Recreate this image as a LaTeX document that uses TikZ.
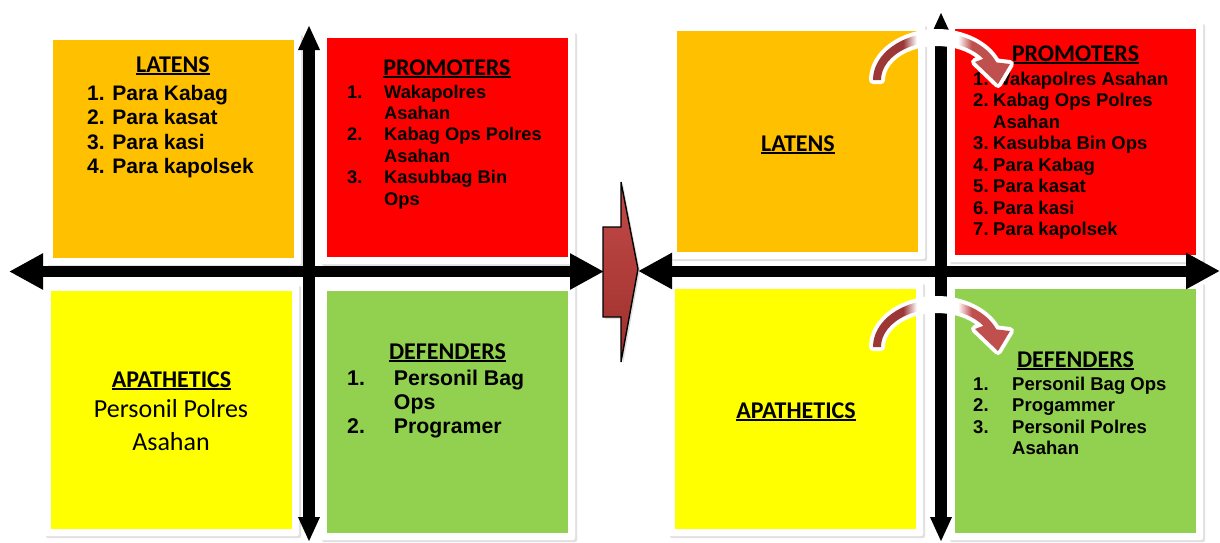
\documentclass[tikz,border=0pt]{standalone}
\usepackage{fontspec}
\setmainfont{Liberation Sans}
\newfontfamily\calfont{Carlito}
\usetikzlibrary{arrows.meta,shadows}
\definecolor{qorange}{HTML}{FFC000}
\definecolor{qred}{HTML}{FF0000}
\definecolor{qyellow}{HTML}{FFFF00}
\definecolor{qgreen}{HTML}{92D050}
\definecolor{ctop}{HTML}{C24A47}
\definecolor{cbot}{HTML}{9E302D}
\definecolor{adark}{HTML}{9B3836}
\definecolor{alight}{HTML}{C0504D}
\pgfdeclarehorizontalshading{arcshade}{100bp}{color(0bp)=(adark); color(25bp)=(adark); color(36bp)=(adark); color(41bp)=(white); color(56bp)=(white); color(61bp)=(alight); color(75bp)=(alight); color(100bp)=(alight)}
\newcommand\myul[1]{\setbox0=\hbox{#1}\rlap{\rule[-2.6pt]{\wd0}{1.8pt}}\box0}
\newcommand\hd[1]{{\calfont\bfseries\fontsize{24}{28}\selectfont\myul{#1}}}
\newcommand\qcurvedarrow[1]{%
\begin{scope}[yshift=#1]
\shade[shading=arcshade, preaction={draw=white, line width=8pt, line join=round}]
 (873,-80) arc[start angle=180, end angle=22, x radius=64, y radius=47]
 -- (1010,-64) -- (998,-84) -- (975,-62) -- (983.4,-58.8)
 arc[start angle=34, end angle=180, x radius=56, y radius=38] -- cycle;
\end{scope}}
\tikzset{
  box/.style={fill=white, rounded corners=2pt, inner sep=0pt,
    drop shadow={shadow xshift=2pt, shadow yshift=-2pt, opacity=0.2, fill=black!60},
    path picture={\fill[#1, sharp corners] ([shift={(7pt,7pt)}]path picture bounding box.south west) rectangle ([shift={(-7pt,-7pt)}]path picture bounding box.north east);}},
  haxis/.style={line width=11pt, {Triangle[length=34pt,width=34pt]}-{Triangle[length=34pt,width=34pt]}},
  vaxis/.style={line width=12pt, {Triangle[length=25pt,width=20pt]}-{Triangle[length=25pt,width=20pt]}},
  txt/.style={inner sep=0pt, text=black}
}
\begin{document}
\begin{tikzpicture}[x=1pt,y=1pt]
\useasboundingbox (0,0) rectangle (1220,-542);
% left quadrant boxes
\node[box=qorange, minimum width=255pt, minimum height=232pt] (llat) at (173.5,-149) {};
\node[box=qred, minimum width=255pt, minimum height=233pt] (lpro) at (447.5,-147.5) {};
\node[box=qyellow, minimum width=255pt, minimum height=252pt] (lapa) at (171.5,-410) {};
\node[box=qgreen, minimum width=255pt, minimum height=256pt] (ldef) at (447.5,-412) {};
% right quadrant boxes
\node[box=qorange, minimum width=255pt, minimum height=235pt] (rlat) at (797.5,-141.5) {};
\node[box=qred, minimum width=255pt, minimum height=240pt] (rpro) at (1075.5,-142) {};
\node[box=qyellow, minimum width=255pt, minimum height=254pt] (rapa) at (795.5,-409) {};
\node[box=qgreen, minimum width=255pt, minimum height=258pt] (rdef) at (1075.5,-411) {};
% axis end points
\coordinate (lw) at (9,-271.5);
\coordinate (le) at (604,-271.5);
\coordinate (ln) at (309,-25);
\coordinate (ls) at (309,-542);
\coordinate (rw) at (638,-271);
\coordinate (re) at (1220,-271);
\coordinate (rn) at (941,-12);
\coordinate (rs) at (941,-542);
\draw[haxis] (lw) -- (le);
\draw[vaxis] (ln) -- (ls);
\draw[haxis] (rw) -- (re);
\draw[vaxis] (rn) -- (rs);
% centre arrow
\draw[line width=1.4pt, top color=ctop, bottom color=cbot,
  drop shadow={shadow xshift=2pt, shadow yshift=-2pt, opacity=0.2, fill=black!60}]
  (603,-227) -- (621,-227) -- (621,-182) -- (638,-269) -- (621,-362) -- (621,-317) -- (603,-317) -- cycle;
% left texts
\node[txt, anchor=base] (llath) at (173,-72) {\hd{LATENS}};
\node[txt, anchor=base west] (llatl) at (87,-100) {\fontsize{21}{24.5}\selectfont\bfseries
  \begin{tabular}[t]{@{}l@{}}1. Para Kabag\\2. Para kasat\\3. Para kasi\\4. Para kapolsek\end{tabular}};
\node[txt, anchor=base] (lproh) at (447,-75) {\hd{PROMOTERS}};
\node[txt, anchor=base west] (lprol) at (347,-98) {\fontsize{18.3}{21.4}\selectfont\bfseries
  \begin{tabular}[t]{@{}l@{\hspace{21.7pt}}l@{}}1.&Wakapolres\\&Asahan\\2.&Kabag Ops Polres\\&Asahan\\3.&Kasubbag Bin\\&Ops\end{tabular}};
\node[txt, anchor=base] (lapah) at (171.5,-387) {\hd{APATHETICS}};
\node[txt, anchor=base] (lapal) at (171,-417) {\calfont\fontsize{26}{33}\selectfont
  \begin{tabular}[t]{@{}c@{}}Personil Polres\\Asahan\end{tabular}};
\node[txt, anchor=base] (ldefh) at (447.5,-359) {\hd{DEFENDERS}};
\node[txt, anchor=base west] (ldefl) at (347,-385) {\fontsize{21.3}{24}\selectfont\bfseries
  \begin{tabular}[t]{@{}l@{\hspace{29pt}}l@{}}1.&Personil Bag\\&Ops\\2.&Programer\end{tabular}};
% right texts
\node[txt, anchor=base] (rlath) at (798,-151) {\hd{LATENS}};
\node[txt, anchor=base] (rproh) at (1075.5,-61) {\hd{PROMOTERS}};
\node[txt, anchor=base west] (rprol) at (973,-85) {\fontsize{18.5}{21.5}\selectfont\bfseries
  \begin{tabular}[t]{@{}l@{\hspace{4.6pt}}l@{}}1.&Wakapolres Asahan\\2.&Kabag Ops Polres\\&Asahan\\3.&Kasubba Bin Ops\\4.&Para Kabag\\5.&Para kasat\\6.&Para kasi\\7.&Para kapolsek\end{tabular}};
\node[txt, anchor=base] (rapah) at (796,-418) {\hd{APATHETICS}};
\node[txt, anchor=base] (rdefh) at (1075.5,-367) {\hd{DEFENDERS}};
\node[txt, anchor=base west] (rdefl) at (973,-390) {\fontsize{18.5}{21.5}\selectfont\bfseries
  \begin{tabular}[t]{@{}l@{\hspace{23.6pt}}l@{}}1.&Personil Bag Ops\\2.&Progammer\\3.&Personil Polres\\&Asahan\end{tabular}};
% curved arrows
\qcurvedarrow{0pt}
\qcurvedarrow{-267pt}
\end{tikzpicture}
\end{document}
